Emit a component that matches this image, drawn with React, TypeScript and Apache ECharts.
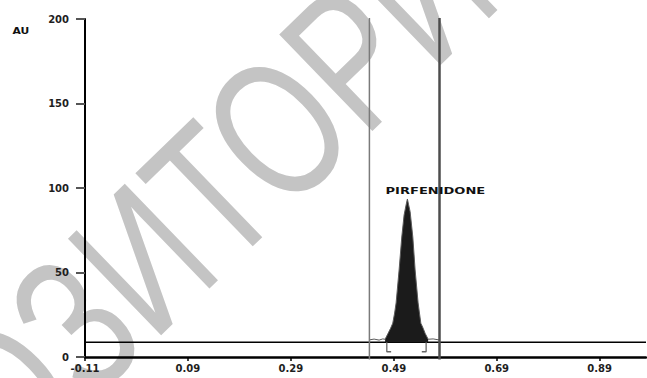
import React, { useEffect, useRef } from 'react';
import * as echarts from 'echarts';

// ---- data ----
const xTickLabels = ['-0.11', '0.09', '0.29', '0.49', '0.69', '0.89'];
const yTickLabels = ['0', '50', '100', '150', '200'];
const xMin = -0.11;
const xMax = 0.98;
const xStep = 0.2;
const yMin = 0;
const yMax = 200;
const yStep = 50;

const signalX = [0.442, 0.4517, 0.4614, 0.4686, 0.4731, 0.4789, 0.4838, 0.488, 0.4916, 0.4945, 0.5003, 0.5055, 0.51, 0.5139, 0.5164, 0.5188, 0.5217, 0.5269, 0.5314, 0.5372, 0.5425, 0.547, 0.5508, 0.5567, 0.5664, 0.578];
const signalY = [10.1, 10.6, 10.0, 10.7, 10.5, 14, 17, 20, 26, 32, 51.5, 71, 84, 90, 93.5, 90, 86, 71, 51.5, 32, 20, 17, 14, 10.5, 10.7, 10.1];

const baselineLevel = 8.7;
const windowLeft = 0.4426;
const windowRight = 0.5788;
const peakStart = 0.473;
const peakEnd = 0.557;
const markerLeftX = [0.4764, 0.4764, 0.4848];
const markerRightX = [0.5528, 0.5528, 0.5444];
const markerY = [8.7, 3.1, 3.1];

const peakName = 'PIRFENIDONE';
const peakApex = [0.5164, 93.5];
const yAxisName = 'AU';
const watermarkText = 'РЕПОЗИТОРИЙ';

const zip = (xs: number[], ys: number[]) => xs.map((x, i) => [x, ys[i]]);

const labelFont = { fontFamily: 'DejaVu Sans', fontWeight: 'bold' as const, fontSize: 10, color: '#1e1e1e' };

export default function App() {
  const ref = useRef<HTMLDivElement>(null);
  useEffect(() => {
    if (!ref.current) return;
    const chart = echarts.init(ref.current, undefined, { renderer: 'svg' });
    const lineBase = { type: 'line' as const, showSymbol: false, symbol: 'none', silent: true };
    const allPoints = zip(signalX, signalY);
    const corePoints = allPoints.filter((p) => p[0] >= peakStart && p[0] <= peakEnd);
    chart.setOption({
      animation: false,
      grid: { left: 85, right: 1, top: 19, bottom: 21 },
      xAxis: {
        type: 'value', min: xMin, max: xMax, interval: xStep,
        axisLine: { onZero: false, lineStyle: { color: '#000', width: 2.5 } },
        axisTick: { show: true, length: 4, lineStyle: { color: '#000', width: 1.5 } },
        axisLabel: {
          ...labelFont, margin: 6, showMaxLabel: false,
          formatter: (v: number) => {
            const hit = xTickLabels.find((t) => Math.abs(parseFloat(t) - v) < 0.005);
            return hit ?? '';
          },
        },
        splitLine: { show: false },
      },
      yAxis: {
        type: 'value', min: yMin, max: yMax, interval: yStep,
        axisLine: { show: true, onZero: false, lineStyle: { color: '#000', width: 2 } },
        axisTick: { show: true, length: 9, lineStyle: { color: '#555', width: 2 } },
        axisLabel: {
          ...labelFont, margin: 16,
          formatter: (v: number) => yTickLabels.find((t) => Math.abs(parseFloat(t) - v) < 0.5) ?? '',
        },
        splitLine: { show: false },
      },
      series: [
        {
          ...lineBase, name: 'baseline', data: [[xMin, baselineLevel], [xMax, baselineLevel]],
          lineStyle: { color: '#000', width: 1.5 }, z: 3,
        },
        {
          ...lineBase, name: 'peakArea', data: corePoints,
          lineStyle: { width: 0 },
          areaStyle: { color: '#1b1b1b', opacity: 1, origin: baselineLevel }, z: 4,
        },
        {
          ...lineBase, name: 'signal', data: allPoints,
          lineStyle: { color: '#5a5a5a', width: 1 }, z: 4,
        },
        {
          ...lineBase, name: 'windowLeft', clip: false, data: [[windowLeft, 200.6], [windowLeft, -1.5]],
          lineStyle: { color: '#7a7a7a', width: 1.5 }, z: 5,
        },
        {
          ...lineBase, name: 'windowRight', clip: false, data: [[windowRight, 200.6], [windowRight, -1.5]],
          lineStyle: { color: '#4d4d4d', width: 2.5 }, z: 5,
        },
        {
          ...lineBase, name: 'markerLeft', data: zip(markerLeftX, markerY),
          lineStyle: { color: '#666', width: 1.3 }, z: 5,
        },
        {
          ...lineBase, name: 'markerRight', data: zip(markerRightX, markerY),
          lineStyle: { color: '#666', width: 1.3 }, z: 5,
        },
      ],
    });
    const p = chart.convertToPixel({ gridIndex: 0 }, peakApex) as number[];
    chart.setOption({
      graphic: [
        {
          id: 'wm', type: 'text', x: 143, y: 258, rotation: (44 * Math.PI) / 180, scaleX: 0.95, scaleY: 1.3,
          z: -5, silent: true,
          style: {
            text: watermarkText, x: 0, y: 0, align: 'center', verticalAlign: 'middle',
            fontFamily: 'Liberation Sans', fontWeight: 'normal', fontSize: 150, fill: '#c4c4c4',
          },
        },
        {
          id: 'au', type: 'text', x: 21, y: 31, scaleX: 1.2, z: 10,
          style: { text: yAxisName, x: 0, y: 0, align: 'center', verticalAlign: 'middle', font: 'bold 9px "DejaVu Sans"', fill: '#111' },
        },
        {
          id: 'peak', type: 'text', x: p[0] + 28, y: p[1] - 8, scaleX: 1.45, z: 10,
          style: { text: peakName, x: 0, y: 0, align: 'center', verticalAlign: 'middle', font: 'bold 9px "DejaVu Sans"', fill: '#111' },
        },
      ],
    });
    return () => chart.dispose();
  }, []);
  return <div ref={ref} style={{ position: 'fixed', left: 0, top: 0, width: 647, height: 378, background: '#fff' }} />;
}
